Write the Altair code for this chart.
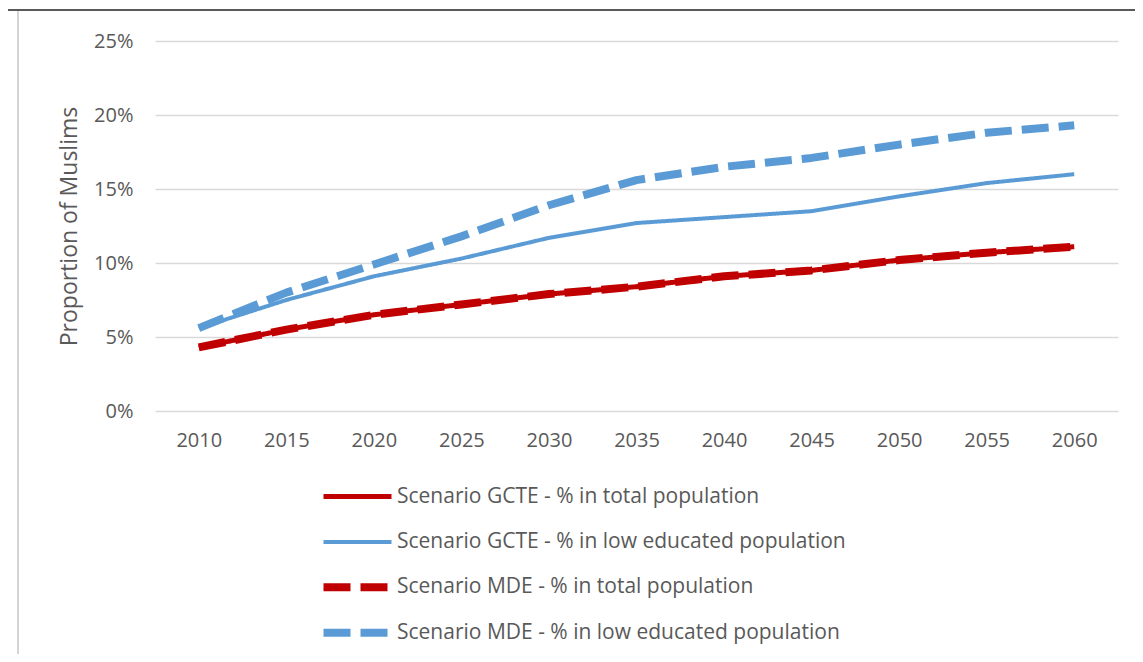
import altair as alt
import pandas as pd

years = ["2010", "2015", "2020", "2025", "2030", "2035", "2040", "2045", "2050", "2055", "2060"]
gcte_total = [0.043, 0.055, 0.065, 0.072, 0.079, 0.084, 0.091, 0.095, 0.102, 0.107, 0.111]
gcte_low = [0.056, 0.075, 0.091, 0.103, 0.117, 0.127, 0.131, 0.135, 0.145, 0.154, 0.160]
mde_total = [0.043, 0.055, 0.065, 0.072, 0.079, 0.084, 0.091, 0.095, 0.102, 0.107, 0.111]
mde_low = [0.056, 0.080, 0.099, 0.118, 0.139, 0.156, 0.165, 0.171, 0.180, 0.188, 0.193]

series_names = [
    "Scenario GCTE - % in total population",
    "Scenario GCTE - % in low educated population",
    "Scenario MDE - % in total population",
    "Scenario MDE - % in low educated population",
]
series_values = [gcte_total, gcte_low, mde_total, mde_low]

rows = []
for name, vals in zip(series_names, series_values):
    for y, v in zip(years, vals):
        rows.append({"year": y, "value": v, "series": name})
df = pd.DataFrame(rows)

RED = "#c00000"
BLUE = "#5b9bd5"
FONT = "Open Sans"
GREY = "#595959"

lines = alt.Chart(df).mark_line(strokeJoin="round").encode(
    x=alt.X("year:O", sort=years, scale=alt.Scale(type="point", padding=0.5),
            axis=alt.Axis(title=None, labelAngle=0, labelFontSize=20, labelColor=GREY,
                          labelFont=FONT, labelPadding=19, ticks=False, domain=False)),
    y=alt.Y("value:Q", scale=alt.Scale(domain=[0, 0.25], nice=False),
            axis=alt.Axis(title="Proportion of Muslims", format=".0%",
                          values=[0, 0.05, 0.10, 0.15, 0.20, 0.25],
                          labelFontSize=20, labelColor=GREY, labelFont=FONT,
                          labelPadding=22, ticks=False, domain=False,
                          titleFontSize=23, titleColor=GREY, titleFont=FONT,
                          titleFontWeight="normal", titlePadding=12,
                          gridColor="#d9d9d9", gridWidth=1.5)),
    color=alt.Color("series:N", scale=alt.Scale(domain=series_names, range=[RED, BLUE, RED, BLUE]),
                    legend=alt.Legend(orient="none", legendX=192, legendY=445, title=None,
                                      symbolType="M-6.8,0H6.8", symbolSize=100,
                                      gridAlign="all",
                                      labelFontSize=21, labelColor=GREY, labelFont=FONT,
                                      rowPadding=12.4, padding=0, labelOffset=29,
                                      labelLimit=700)),
    strokeDash=alt.StrokeDash("series:N", scale=alt.Scale(domain=series_names,
                              range=[[1, 0], [1, 0], [27, 10], [27, 10]])),
    strokeWidth=alt.StrokeWidth("series:N", scale=alt.Scale(type="ordinal", domain=series_names,
                                range=[5, 4, 8, 8])),
    order=alt.Order("year:O"),
)

one = pd.DataFrame({"a": [0]})
top_rule = alt.Chart(one).mark_rule(color="#222222", strokeWidth=1.5).encode(
    x=alt.value(-151), x2=alt.value(990), y=alt.value(-31))
left_rule = alt.Chart(one).mark_rule(color="#d4d4d4", strokeWidth=2).encode(
    x=alt.value(-137), y=alt.value(-30), y2=alt.value(620))

chart = alt.layer(lines, top_rule, left_rule).properties(
    width=963, height=370,
    autosize=alt.AutoSizeParams(type="none"),
    padding={"left": 147, "top": 33, "right": 17, "bottom": 243},
).configure_view(stroke=None)

chart.save("out.html", embed_options={"renderer": "svg", "actions": False})
